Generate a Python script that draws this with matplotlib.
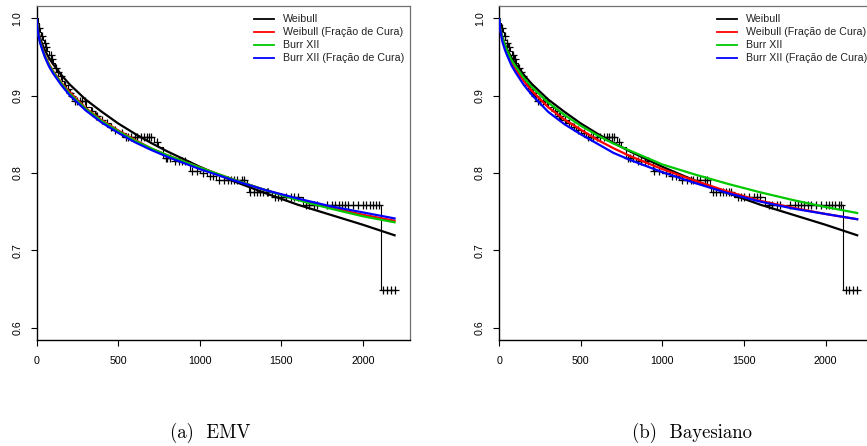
import numpy as np
import matplotlib
matplotlib.use("Agg")
import matplotlib.pyplot as plt

# ---------------- data ----------------
# Kaplan-Meier: event times and survival just after each event
km_event_t = [5, 12, 20, 28, 37, 45, 55, 66, 78, 90, 102, 112, 125, 140, 155, 168,
              182, 196, 210, 226, 300, 330, 355, 380, 410, 440, 470, 500, 530,
              720, 745, 775, 840, 940, 1000, 1045, 1100, 1290, 1300, 1440, 1630, 2108]
km_event_s = [0.994, 0.988, 0.982, 0.977, 0.972, 0.968, 0.963, 0.958, 0.952, 0.947,
              0.942, 0.936, 0.930, 0.925, 0.919, 0.914, 0.909, 0.904, 0.899, 0.893,
              0.885, 0.880, 0.874, 0.869, 0.865, 0.860, 0.856, 0.852, 0.846,
              0.840, 0.834, 0.820, 0.815, 0.803, 0.800, 0.796, 0.791, 0.784, 0.776,
              0.769, 0.758, 0.649]
km_end = 2200
# censored times
cens_t = [15, 33, 48, 60, 85, 95, 118, 130, 148, 175, 190, 205, 218, 235, 250, 265,
          280, 295, 340, 365, 372, 400, 430, 455, 480, 520, 545, 560, 575, 600, 615,
          640, 660, 675, 690, 700, 735, 790, 800, 820, 850, 870, 890, 910, 950, 980,
          1020, 1060, 1080, 1120, 1150, 1175, 1190, 1210, 1230, 1260, 1270, 1310,
          1330, 1350, 1370, 1390, 1410, 1420, 1460, 1480, 1500, 1530, 1560, 1580,
          1600, 1650, 1670, 1700, 1720, 1780, 1810, 1830, 1850, 1870, 1890, 1910,
          1940, 1970, 2000, 2020, 2040, 2060, 2080, 2095, 2125, 2145, 2170, 2195]

# fitted survival curves
t_grid = [0, 5, 10, 20, 35, 50, 75, 100, 150, 200, 300, 400, 500, 600, 700, 800,
          1000, 1200, 1400, 1600, 1800, 2000, 2200]

emv_weibull = [1.0, 0.988, 0.983, 0.975, 0.966, 0.959, 0.949, 0.941, 0.927, 0.915,
               0.895, 0.879, 0.864, 0.851, 0.839, 0.828, 0.808, 0.790, 0.774, 0.759,
               0.746, 0.733, 0.719]
emv_weibull_cura = [1.0, 0.987, 0.981, 0.971, 0.961, 0.952, 0.941, 0.932, 0.917, 0.905,
                    0.884, 0.868, 0.855, 0.843, 0.832, 0.823, 0.807, 0.792, 0.778, 0.766,
                    0.755, 0.746, 0.738]
emv_burr = [1.0, 0.986, 0.980, 0.970, 0.960, 0.951, 0.940, 0.931, 0.916, 0.903,
            0.883, 0.867, 0.854, 0.842, 0.832, 0.823, 0.807, 0.792, 0.778, 0.765,
            0.754, 0.744, 0.736]
emv_burr_cura = [1.0, 0.986, 0.979, 0.969, 0.959, 0.950, 0.938, 0.929, 0.914, 0.901,
                 0.881, 0.865, 0.852, 0.840, 0.830, 0.821, 0.805, 0.791, 0.778, 0.767,
                 0.757, 0.749, 0.741]

bay_weibull = [1.0, 0.988, 0.983, 0.975, 0.966, 0.959, 0.949, 0.941, 0.927, 0.915,
               0.895, 0.879, 0.864, 0.851, 0.839, 0.828, 0.808, 0.790, 0.774, 0.759,
               0.746, 0.733, 0.719]
bay_weibull_cura = [1.0, 0.987, 0.981, 0.972, 0.962, 0.954, 0.943, 0.934, 0.919, 0.906,
                    0.885, 0.869, 0.856, 0.843, 0.832, 0.822, 0.805, 0.790, 0.776, 0.764,
                    0.755, 0.747, 0.740]
bay_burr = [1.0, 0.988, 0.982, 0.974, 0.965, 0.957, 0.946, 0.938, 0.923, 0.911,
            0.891, 0.875, 0.861, 0.849, 0.838, 0.829, 0.811, 0.798, 0.786, 0.775,
            0.765, 0.756, 0.748]
bay_burr_cura = [1.0, 0.986, 0.980, 0.969, 0.959, 0.951, 0.939, 0.930, 0.914, 0.901,
                 0.879, 0.863, 0.850, 0.838, 0.826, 0.817, 0.801, 0.787, 0.774, 0.763,
                 0.754, 0.747, 0.740]

labels = ["Weibull", "Weibull (Fração de Cura)", "Burr XII", "Burr XII (Fração de Cura)"]
colors = ["black", "#FF0000", "#00C800", "#0000FF"]
x_ticks = [0, 500, 1000, 1500, 2000]
y_ticks = [0.6, 0.7, 0.8, 0.9, 1.0]
captions = ["(a)  EMV", "(b)  Bayesiano"]

# ---------------- plotting ----------------
W, H = 867, 446
fig = plt.figure(figsize=(W / 100, H / 100), dpi=100)

tick_font = {"family": "Liberation Sans", "size": 7.7}


def km_value(t):
    idx = np.searchsorted(km_event_t, t, side="right") - 1
    return 1.0 if idx < 0 else km_event_s[idx]


def panel(left_px, curves):
    ax = fig.add_axes([left_px / W, (H - 340) / H, 373.3 / W, 334 / H])
    ax.set_xlim(0, 2200 * 1.04)
    ax.set_ylim(0.584, 1.016)

    # Kaplan-Meier
    xs = [0] + km_event_t + [km_end]
    ys = [1.0] + km_event_s + [km_event_s[-1]]
    ax.step(xs, ys, where="post", color="black", lw=0.8, zorder=2)
    cs = [km_value(c) for c in cens_t]
    ax.plot(cens_t, cs, ls="none", marker="+", ms=5.5, mew=0.9, color="black", zorder=2)

    for vals, col in zip(curves, colors):
        ax.plot(t_grid, vals, color=col, lw=1.6, zorder=3, solid_capstyle="butt",
                solid_joinstyle="round")

    # legend (drawn by hand, R style, no box)
    rows_y = [0.961, 0.921, 0.883, 0.843]
    for lab, col, yy in zip(labels, colors, rows_y):
        ax.plot([0.582, 0.636], [yy, yy], transform=ax.transAxes, color=col, lw=1.3,
                clip_on=False, zorder=4)
        ax.text(0.661, yy, lab, transform=ax.transAxes, va="center", ha="left",
                fontdict=tick_font, color="#222222", clip_on=False)

    ax.set_xticks(x_ticks)
    ax.set_xticklabels([str(v) for v in x_ticks], fontdict=tick_font)
    ax.set_yticks(y_ticks)
    ax.set_yticklabels([f"{v:.1f}" for v in y_ticks], fontdict=tick_font,
                       rotation=90, va="center")
    ax.tick_params(axis="x", length=4.3, width=0.8, pad=7.5, colors="black")
    ax.tick_params(axis="y", length=4.3, width=0.8, pad=6.0, colors="black")
    for s in ["left", "bottom"]:
        ax.spines[s].set_color("black")
        ax.spines[s].set_linewidth(1.0)
    for s in ["top", "right"]:
        ax.spines[s].set_color("#707070")
        ax.spines[s].set_linewidth(0.9)
    return ax


ax1 = panel(36.7, [emv_weibull, emv_weibull_cura, emv_burr, emv_burr_cura])
ax2 = panel(499.3, [bay_weibull, bay_weibull_cura, bay_burr, bay_burr_cura])

fig.text(210 / W, (H - 433) / H, captions[0], ha="center", va="center",
         family="cmr10", size=13.5)
fig.text(692 / W, (H - 433) / H, captions[1], ha="center", va="center",
         family="cmr10", size=13.5)

fig.savefig("out.png", dpi=100)
